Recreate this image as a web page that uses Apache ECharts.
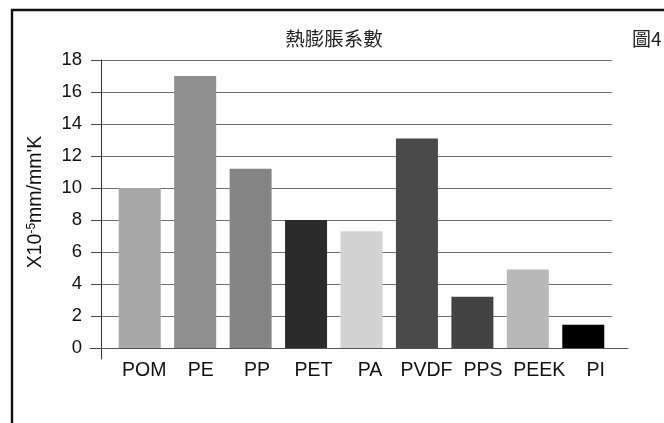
<!DOCTYPE html>
<html>
<head>
<meta charset="utf-8">
<script src="https://cdn.jsdelivr.net/npm/echarts@6/dist/echarts.min.js"></script>
<style>
html,body{margin:0;padding:0;background:#fdfdfd;}
#c{width:664px;height:423px;}
</style>
</head>
<body>
<div id="c"></div>
<script>
const categories = ['POM', 'PE', 'PP', 'PET', 'PA', 'PVDF', 'PPS', 'PEEK', 'PI'];
const values = [10.0, 17.0, 11.2, 8.0, 7.3, 13.1, 3.2, 4.9, 1.45];
const barColors = ['#a6a6a6', '#8f8f8f', '#858585', '#2b2b2b', '#d3d3d3', '#4a4a4a', '#434343', '#b8b8b8', '#000000'];
const yTicks = { min: 0, max: 18, interval: 2 };
const titleText = '熱膨脹系數';
const figText = '圖4';
const yName = ['X10', '-5', 'mm/mm\'K'];

const font = '"Liberation Sans", Arial, sans-serif';
const cjk = '"Noto Sans CJK TC", "Noto Sans CJK SC", sans-serif';

const chart = echarts.init(document.getElementById('c'), null, { renderer: 'canvas' });
chart.setOption({
  backgroundColor: '#fdfdfd',
  animation: false,
  title: [
    { text: titleText, left: 329, top: 24, textAlign: 'center',
      textStyle: { fontFamily: cjk, fontSize: 19.5, fontWeight: 'normal', color: '#222' } },
    { text: figText, left: 627, top: 24,
      textStyle: { fontFamily: cjk, fontSize: 19, fontWeight: 'normal', color: '#222' } }
  ],
  graphic: [
    { type: 'rect', shape: { x: 12, y: 10, width: 700, height: 500 },
      style: { fill: 'none', stroke: '#111', lineWidth: 2.4 }, z: 100 },
    { type: 'text', x: 36, y: 202, rotation: Math.PI / 2, z: 100,
      style: {
        text: '{n|' + yName[0] + '}{s|' + yName[1] + '}{n|' + yName[2] + '}',
        align: 'center', verticalAlign: 'middle',
        rich: {
          n: { fontFamily: font, fontSize: 19.5, fill: '#111' },
          s: { fontFamily: font, fontSize: 12, fill: '#111', verticalAlign: 'top', padding: [0, 0, 9, 0] }
        }
      } }
  ],
  grid: [
    { left: 101, right: 52, top: 60, bottom: 75 },
    { left: 112, right: 53, top: 60, bottom: 75 },
    { left: 90, right: 36, top: 60, bottom: 75 },
    { left: 101, right: 52, top: 60, bottom: 64 },
    { left: 116, right: 40, top: 60, bottom: 75 }
  ],
  xAxis: [
    { gridIndex: 0, type: 'value', show: false, min: 0, max: 1 },
    { gridIndex: 1, type: 'category', data: categories,
      axisLine: { show: false }, axisTick: { show: false }, axisLabel: { show: false } },
    { gridIndex: 2, type: 'value', min: 0, max: 1, position: 'bottom',
      axisLine: { show: true, lineStyle: { color: '#555', width: 1 } },
      axisTick: { show: false }, axisLabel: { show: false }, splitLine: { show: false } },
    { gridIndex: 3, type: 'value', show: false, min: 0, max: 1 },
    { gridIndex: 4, type: 'category', data: categories,
      axisLine: { show: false }, axisTick: { show: false },
      axisLabel: { fontFamily: font, fontSize: 19.5, color: '#111', margin: 13, interval: 0 } }
  ],
  yAxis: [
    { gridIndex: 0, type: 'value', min: yTicks.min, max: yTicks.max, interval: yTicks.interval,
      axisLine: { show: false },
      axisTick: { show: true, length: 10, lineStyle: { color: '#444' } },
      axisLabel: { fontFamily: font, fontSize: 18.5, color: '#111', margin: 19 },
      splitLine: { show: true, lineStyle: { color: '#6e6e6e', width: 1.2 } } },
    { gridIndex: 1, type: 'value', min: yTicks.min, max: yTicks.max, show: false },
    { gridIndex: 2, type: 'value', min: 0, max: 1, show: false },
    { gridIndex: 3, type: 'value', min: 0, max: 1,
      axisLine: { show: true, lineStyle: { color: '#333', width: 1 } },
      axisTick: { show: false }, axisLabel: { show: false }, splitLine: { show: false } },
    { gridIndex: 4, type: 'value', min: 0, max: 1, show: false }
  ],
  series: [{
    type: 'bar', xAxisIndex: 1, yAxisIndex: 1,
    barWidth: 42,
    data: values.map((v, i) => ({ value: v, itemStyle: { color: barColors[i] } })),
    z: 3
  }]
});
</script>
</body>
</html>
